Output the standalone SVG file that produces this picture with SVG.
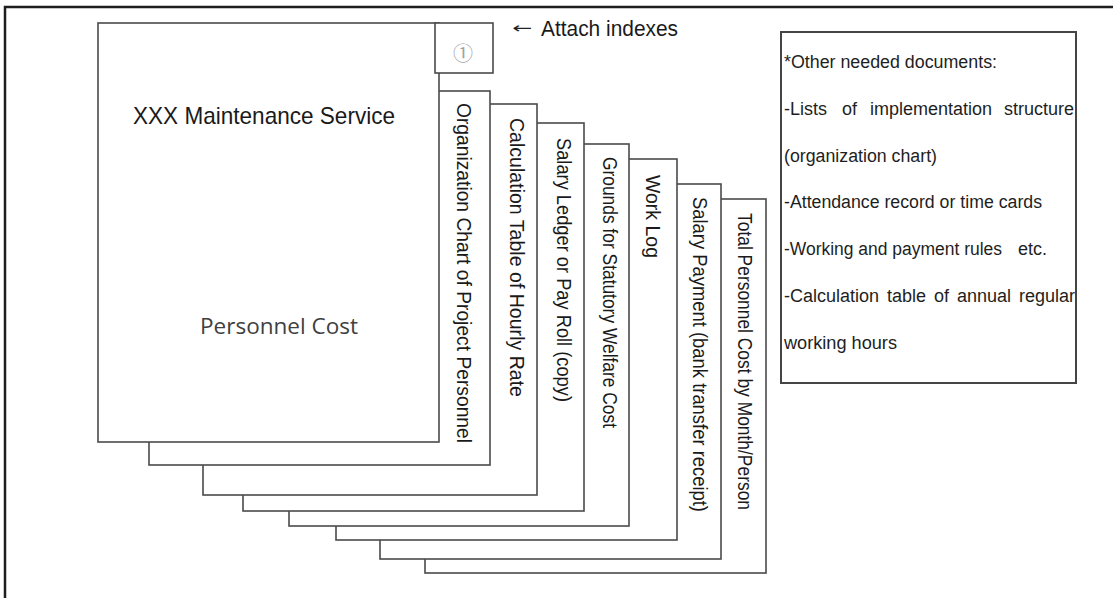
<svg xmlns="http://www.w3.org/2000/svg" width="1113" height="598" viewBox="0 0 1113 598">
<style>
.pg{fill:#fff;stroke:#4a4a4a;stroke-width:1.6}
.frame{fill:none;stroke:#1e1e1e;stroke-width:2.5}
.box{fill:#fff;stroke:#454545;stroke-width:2}
.t{font-family:"Liberation Sans",Arial,sans-serif;fill:#1a1a1a}
.tab{font-family:"Liberation Sans",Arial,sans-serif;font-size:20px;fill:#1a1a1a}
.note{font-family:"Liberation Sans",Arial,sans-serif;font-size:18px;fill:#1e1e1e}
</style>
<rect width="1113" height="598" fill="#fff"/>
<rect class="frame" x="5" y="7" width="1200" height="700"/>
<g id="page8"><rect class="pg" x="425" y="199" width="341" height="374"/>
<text class="tab" transform="translate(737.5,213) rotate(90)" textLength="297" lengthAdjust="spacingAndGlyphs">Total Personnel Cost by Month/Person</text></g>
<g id="page7"><rect class="pg" x="380" y="184" width="341" height="375"/>
<text class="tab" transform="translate(692.5,197) rotate(90)" textLength="315" lengthAdjust="spacingAndGlyphs">Salary Payment (bank transfer receipt)</text></g>
<g id="page6"><rect class="pg" x="336" y="159" width="341" height="381"/>
<text class="tab" transform="translate(645.5,175) rotate(90)" textLength="83" lengthAdjust="spacingAndGlyphs">Work Log</text></g>
<g id="page5"><rect class="pg" x="289" y="144" width="340" height="382"/>
<text class="tab" transform="translate(602.5,157) rotate(90)" textLength="271" lengthAdjust="spacingAndGlyphs">Grounds for Statutory Welfare Cost</text></g>
<g id="page4"><rect class="pg" x="243" y="123" width="341" height="388"/>
<text class="tab" transform="translate(556.5,138) rotate(90)" textLength="264" lengthAdjust="spacingAndGlyphs">Salary Ledger or Pay Roll (copy)</text></g>
<g id="page3"><rect class="pg" x="203" y="104" width="334" height="391"/>
<text class="tab" transform="translate(509.5,118) rotate(90)" textLength="279" lengthAdjust="spacingAndGlyphs">Calculation Table of Hourly Rate</text></g>
<g id="page2"><rect class="pg" x="149" y="91" width="341" height="374"/>
<text class="tab" transform="translate(456.5,103) rotate(90)" textLength="340" lengthAdjust="spacingAndGlyphs">Organization Chart of Project Personnel</text></g>
<g id="main-page"><rect class="pg" x="98" y="23" width="341" height="419"/>
<text class="t" x="133" y="124" font-size="24" textLength="262" lengthAdjust="spacingAndGlyphs">XXX Maintenance Service</text>
<text x="200" y="334" font-family="'Open Sans','Noto Sans',sans-serif" font-size="21" fill="#404040" textLength="158" lengthAdjust="spacingAndGlyphs">Personnel Cost</text></g>
<g id="index-tab"><rect class="pg" x="435" y="23" width="58" height="50"/>
<text x="463" y="61" font-family="'Noto Sans CJK JP','DejaVu Sans',sans-serif" font-size="20" fill="#a0a0a0" text-anchor="middle">①</text></g>
<g id="attach-label">
<text x="512" y="33" font-family="'DejaVu Sans','Liberation Sans',sans-serif" font-size="15" fill="#222" textLength="20" lengthAdjust="spacingAndGlyphs">←</text>
<text class="t" x="541" y="36" font-size="22" textLength="137" lengthAdjust="spacingAndGlyphs">Attach indexes</text></g>
<g id="other-documents"><rect class="box" x="781" y="32" width="295" height="351"/>
<text class="note" x="784" y="68" textLength="213" lengthAdjust="spacingAndGlyphs">*Other needed documents:</text>
<text class="note" x="784" y="115">-Lists</text>
<text class="note" x="842" y="115">of</text>
<text class="note" x="870" y="115">implementation</text>
<text class="note" x="1004" y="115">structure</text>
<text class="note" x="784" y="162" textLength="153" lengthAdjust="spacingAndGlyphs">(organization chart)</text>
<text class="note" x="784" y="208" textLength="258" lengthAdjust="spacingAndGlyphs">-Attendance record or time cards</text>
<text class="note" x="784" y="255" textLength="218" lengthAdjust="spacingAndGlyphs">-Working and payment rules</text>
<text class="note" x="1018" y="255">etc.</text>
<text class="note" x="784" y="302">-Calculation</text>
<text class="note" x="887" y="302">table</text>
<text class="note" x="934" y="302">of</text>
<text class="note" x="957" y="302">annual</text>
<text class="note" x="1019" y="302">regular</text>
<text class="note" x="784" y="349" textLength="113" lengthAdjust="spacingAndGlyphs">working hours</text></g>
<g id="connectors"/>
</svg>
